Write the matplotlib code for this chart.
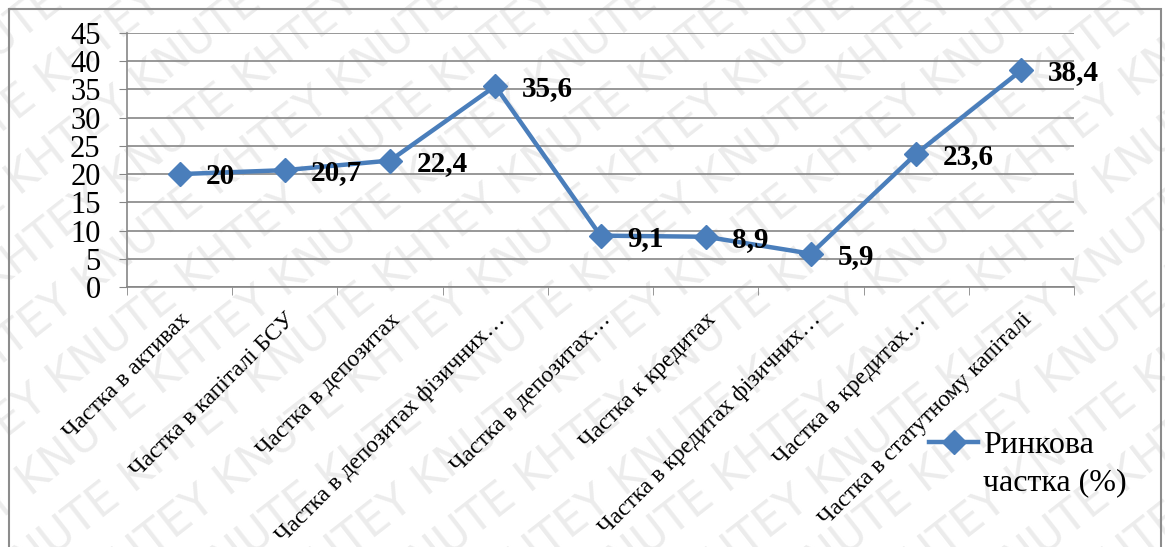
import matplotlib.pyplot as plt
import numpy as np
from matplotlib.legend_handler import HandlerLine2D
from matplotlib.patches import Rectangle

categories = ["Частка в активах", "Частка в капіталі БСУ", "Частка в депозитах",
              "Частка в депозитах фізичних…", "Частка в депозитах…", "Частка к кредитах",
              "Частка в кредитах фізичних…", "Частка в кредитах…", "Частка в статутному капіталі"]
values = [20, 20.7, 22.4, 35.6, 9.1, 8.9, 5.9, 23.6, 38.4]
value_labels = ["20", "20,7", "22,4", "35,6", "9,1", "8,9", "5,9", "23,6", "38,4"]
series_name = "Ринкова\nчастка (%)"
yticks = list(range(0, 50, 5))

W, H = 1165, 547
plt.rcParams['font.family'] = 'serif'
plt.rcParams['font.serif'] = ['Liberation Serif', 'DejaVu Serif']
SERIF = ['Liberation Serif', 'DejaVu Serif']

fig = plt.figure(figsize=(W / 100, H / 100), dpi=100)

# watermark, kept behind the chart
for k in range(-12, 14):
    t = fig.text(-0.1 + k * 0.085, -0.1, ("KNUTE KHTEY " if k % 2 else "KHTEY KNUTE ") * 6,
                 rotation=38, fontsize=32, color='#ececec', family='DejaVu Sans',
                 ha='left', va='bottom', zorder=0)
    t.set_clip_on(True)
    t.set_clip_box(fig.bbox)

# outer border
fig.patches.append(Rectangle((9 / W, -0.05), (1161 - 9) / W, 1 + 0.05 - 9 / H,
                             transform=fig.transFigure, fill=False,
                             edgecolor='#8c8c8c', lw=1.5, zorder=1))

ax = fig.add_axes([127 / W, 1 - 287 / H, (1074 - 127) / W, (287 - 33) / H])
ax.set_zorder(3)
ax.patch.set_alpha(0)

x = np.arange(len(categories))
line, = ax.plot(x, values, color='#4a7ebb', lw=3.2, marker='D', markersize=12,
                label=series_name, zorder=3)
for xi, v, lab in zip(x, values, value_labels):
    ax.annotate(lab, (xi, v), xytext=(19, -2), textcoords='offset points',
                ha='left', va='center', fontsize=21, fontweight='bold',
                family=SERIF, zorder=4)

ax.set_xlim(-0.5, len(categories) - 0.5)
ax.set_ylim(0, 45)
ax.set_yticks(yticks)
ax.set_yticklabels([str(v) for v in yticks], family=SERIF, fontsize=22)
ax.yaxis.grid(True, color='#868686', lw=1.2)
ax.set_axisbelow(True)
ax.tick_params(axis='y', length=6, color='#868686', pad=13)
for s in ['top', 'right']:
    ax.spines[s].set_visible(False)
for s in ['left', 'bottom']:
    ax.spines[s].set_color('#868686')
    ax.spines[s].set_linewidth(1.2)

ax.set_xticks(x)
ax.set_xticklabels(categories, rotation=45, ha='right', va='top',
                   rotation_mode='anchor', fontsize=17, family=SERIF)
ax.tick_params(axis='x', length=0, pad=16)
ax.set_xticks(np.arange(len(categories) + 1) - 0.5, minor=True)
ax.tick_params(axis='x', which='minor', length=6, color='#868686')


class TopLine(HandlerLine2D):
    def create_artists(self, legend, orig_handle, xdescent, ydescent, width, height, fontsize, trans):
        return super().create_artists(legend, orig_handle, xdescent, ydescent - 1.35 * fontsize,
                                      width, height, fontsize, trans)


leg = ax.legend(handles=[line], loc='upper left', bbox_to_anchor=(916 / W, 1 - 418 / H),
                bbox_transform=fig.transFigure, frameon=False,
                prop={'family': SERIF, 'size': 23},
                handlelength=1.55, handletextpad=0.15, borderaxespad=0,
                handler_map={line: TopLine()})
leg.get_texts()[0].set_linespacing(1.4)

fig.savefig('out.png', dpi=100)
